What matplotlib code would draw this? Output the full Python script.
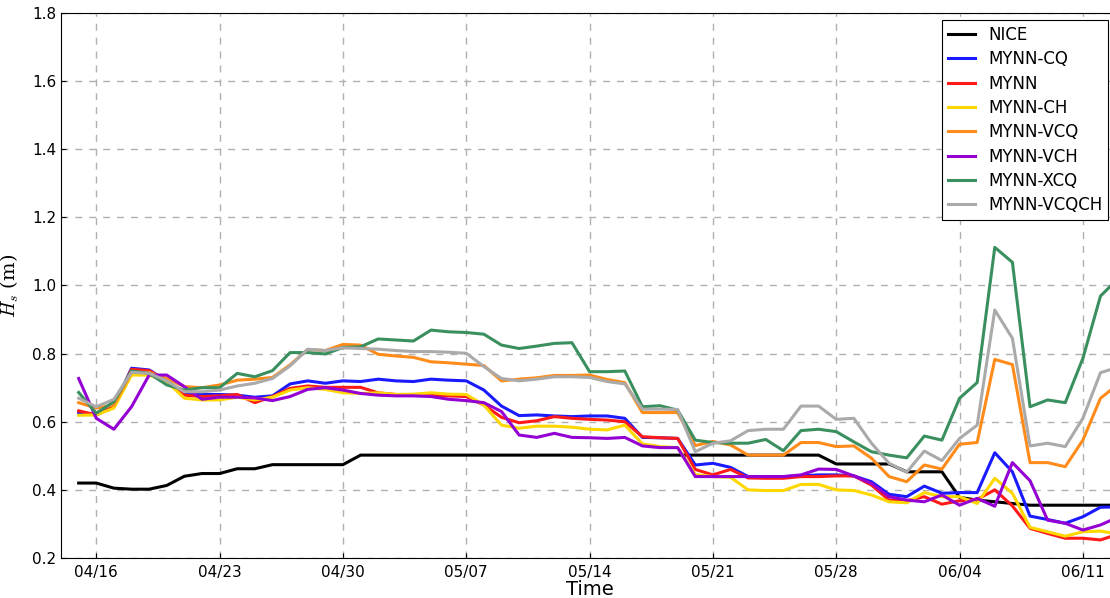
import numpy as np
import pandas as pd
import matplotlib
matplotlib.use("Agg")
import matplotlib.pyplot as plt
import matplotlib.dates as mdates

plt.rcParams['mathtext.fontset'] = 'cm'

# daily significant wave height, 04/15 .. 06/13
dates = pd.date_range('2015-04-15', periods=60, freq='D')

nice = [0.42, 0.42, 0.405, 0.402, 0.402, 0.413, 0.44, 0.448, 0.448, 0.462,
        0.462, 0.474, 0.474, 0.474, 0.474, 0.474] + [0.502] * 27 + \
       [0.476] * 4 + [0.453, 0.453, 0.453, 0.378, 0.37, 0.365, 0.36] + [0.355] * 6

mynn_cq = [0.625, 0.62, 0.644, 0.757, 0.752, 0.72, 0.683, 0.68, 0.68, 0.678,
           0.672, 0.676, 0.711, 0.72, 0.713, 0.72, 0.718, 0.725, 0.72, 0.718,
           0.725, 0.722, 0.72, 0.693, 0.646, 0.618, 0.62, 0.617, 0.615, 0.617,
           0.617, 0.61, 0.554, 0.553, 0.551, 0.473, 0.478, 0.466, 0.439, 0.439,
           0.439, 0.441, 0.444, 0.444, 0.441, 0.424, 0.387, 0.38, 0.411, 0.39,
           0.392, 0.392, 0.509, 0.453, 0.323, 0.313, 0.302, 0.321, 0.349, 0.35]

mynn = [0.632, 0.62, 0.644, 0.754, 0.75, 0.72, 0.678, 0.674, 0.676, 0.68,
        0.656, 0.674, 0.698, 0.705, 0.701, 0.701, 0.701, 0.685, 0.68, 0.678,
        0.678, 0.676, 0.674, 0.649, 0.613, 0.597, 0.603, 0.615, 0.61, 0.607,
        0.605, 0.6, 0.556, 0.553, 0.551, 0.46, 0.444, 0.46, 0.435, 0.434,
        0.434, 0.439, 0.439, 0.441, 0.441, 0.414, 0.37, 0.368, 0.38, 0.358,
        0.368, 0.372, 0.4, 0.353, 0.287, 0.272, 0.258, 0.258, 0.253, 0.27]

mynn_ch = [0.619, 0.62, 0.64, 0.737, 0.737, 0.718, 0.669, 0.664, 0.664, 0.672,
           0.664, 0.672, 0.693, 0.7, 0.695, 0.685, 0.683, 0.685, 0.68, 0.681,
           0.685, 0.681, 0.68, 0.649, 0.59, 0.581, 0.587, 0.587, 0.584, 0.578,
           0.576, 0.59, 0.535, 0.527, 0.524, 0.445, 0.439, 0.437, 0.4, 0.398,
           0.398, 0.416, 0.416, 0.4, 0.398, 0.385, 0.365, 0.362, 0.392, 0.38,
           0.38, 0.36, 0.434, 0.39, 0.29, 0.277, 0.264, 0.277, 0.279, 0.27]

mynn_vcq = [0.656, 0.64, 0.649, 0.745, 0.745, 0.727, 0.703, 0.7, 0.708, 0.722,
            0.725, 0.73, 0.767, 0.812, 0.809, 0.827, 0.825, 0.798, 0.793, 0.789,
            0.776, 0.773, 0.769, 0.765, 0.72, 0.725, 0.729, 0.736, 0.736, 0.737,
            0.724, 0.715, 0.627, 0.627, 0.627, 0.53, 0.542, 0.532, 0.502, 0.502,
            0.502, 0.539, 0.539, 0.527, 0.529, 0.493, 0.439, 0.424, 0.473, 0.461,
            0.534, 0.539, 0.783, 0.768, 0.48, 0.48, 0.468, 0.546, 0.669, 0.71]

mynn_vch = [0.727, 0.61, 0.578, 0.644, 0.737, 0.737, 0.703, 0.666, 0.672, 0.672,
            0.67, 0.662, 0.674, 0.695, 0.7, 0.693, 0.683, 0.678, 0.676, 0.676,
            0.674, 0.666, 0.662, 0.656, 0.63, 0.561, 0.554, 0.566, 0.554, 0.553,
            0.551, 0.554, 0.529, 0.524, 0.524, 0.439, 0.439, 0.439, 0.439, 0.439,
            0.439, 0.444, 0.461, 0.46, 0.441, 0.419, 0.38, 0.37, 0.365, 0.385,
            0.355, 0.375, 0.352, 0.48, 0.427, 0.311, 0.302, 0.282, 0.297, 0.32]

mynn_xcq = [0.686, 0.625, 0.659, 0.749, 0.742, 0.708, 0.693, 0.7, 0.7, 0.742,
            0.732, 0.75, 0.803, 0.803, 0.799, 0.818, 0.82, 0.843, 0.84, 0.837,
            0.869, 0.864, 0.862, 0.857, 0.825, 0.815, 0.822, 0.83, 0.832, 0.747,
            0.747, 0.749, 0.644, 0.647, 0.634, 0.546, 0.539, 0.537, 0.537, 0.548,
            0.515, 0.574, 0.578, 0.571, 0.541, 0.512, 0.502, 0.494, 0.558, 0.546,
            0.669, 0.715, 1.112, 1.068, 0.644, 0.664, 0.656, 0.786, 0.969, 1.02]

mynn_vcqch = [0.669, 0.644, 0.666, 0.745, 0.742, 0.72, 0.688, 0.688, 0.693, 0.705,
              0.713, 0.727, 0.764, 0.813, 0.809, 0.817, 0.815, 0.813, 0.809, 0.806,
              0.806, 0.804, 0.801, 0.762, 0.727, 0.72, 0.725, 0.732, 0.732, 0.73,
              0.718, 0.711, 0.637, 0.637, 0.636, 0.512, 0.537, 0.544, 0.574, 0.578,
              0.578, 0.646, 0.646, 0.607, 0.61, 0.537, 0.478, 0.452, 0.514, 0.486,
              0.551, 0.59, 0.928, 0.845, 0.529, 0.537, 0.527, 0.61, 0.744, 0.76]

series = [
    ('NICE', nice, 'black'),
    ('MYNN-CQ', mynn_cq, '#1a1aff'),
    ('MYNN', mynn, '#ff1a1a'),
    ('MYNN-CH', mynn_ch, '#ffd700'),
    ('MYNN-VCQ', mynn_vcq, '#ff8c1a'),
    ('MYNN-VCH', mynn_vch, '#9400d3'),
    ('MYNN-XCQ', mynn_xcq, '#3a8f5f'),
    ('MYNN-VCQCH', mynn_vcqch, '#aaaaaa'),
]

fig = plt.figure(figsize=(11.1, 5.98), dpi=100)
ax = fig.add_axes([0.055, 0.0669, 0.9523, 0.9114])

for name, vals, col in series:
    ax.plot(dates, vals, color=col, lw=2.2, label=name)

ax.set_xlim(pd.Timestamp('2015-04-14'), pd.Timestamp('2015-06-13'))
ax.set_ylim(0.2, 1.8)
ax.set_yticks(np.arange(0.2, 1.81, 0.2))
ax.set_xticks(pd.date_range('2015-04-16', '2015-06-11', freq='7D'))
ax.xaxis.set_major_formatter(mdates.DateFormatter('%m/%d'))
ax.tick_params(labelsize=11, direction='in')
ax.tick_params(axis='x', pad=5)

ax.grid(True, ls=(0, (5, 5)), color='#b0b0b0', lw=1)
ax.set_xlabel('Time', fontsize=14, labelpad=0)
ax.set_ylabel('$H_s$ (m)', fontsize=14, family='serif', labelpad=8)

leg = ax.legend(loc='upper right', fontsize=12, fancybox=False, framealpha=1,
                edgecolor='black', handlelength=1.6, borderaxespad=0,
                labelspacing=0.38, borderpad=0.35,
                bbox_to_anchor=(0.9905, 0.987))
leg.get_frame().set_linewidth(0.8)

fig.savefig('out.png', dpi=100)
